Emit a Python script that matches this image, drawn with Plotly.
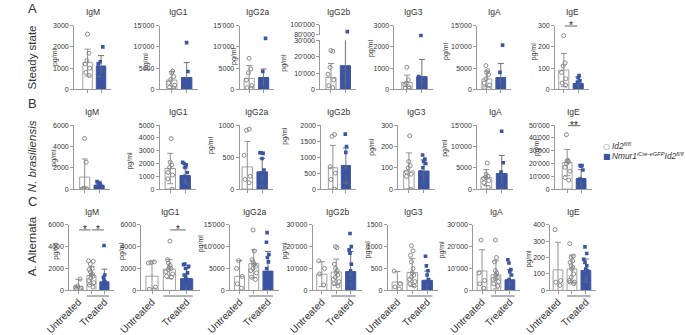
import plotly.graph_objects as go

# ---------------- data ----------------
isotypes = ["IgM", "IgG1", "IgG2a", "IgG2b", "IgG3", "IgA", "IgE"]
row_names = ["Steady state", "<i>N. brasiliensis</i>", "A. Alternata"]
panel_letters = ["A", "B", "C"]
legend_labels = ["<i>Id2</i><sup><i>fl/fl</i></sup>",
                 "<i>Nmur1</i><sup><i>iCre-eGFP</i></sup><i>Id2</i><sup><i>fl/fl</i></sup>"]
c_tick_labels = ["Untreated", "Treated"]
y_unit = "pg/ml"

# Row A - steady state (Id2 fl/fl vs Nmur1-Cre Id2 fl/fl)
A_mean_ctrl = [1260, 2200, 2600, 7350, 330, 2450, 91]
A_sd_ctrl = [630, 2000, 3000, 8500, 340, 1850, 78]
A_mean_ko = [1100, 2800, 2800, 14500, 600, 2800, 28]
A_sd_ko = [490, 3500, 2000, 17000, 810, 3300, 30]
A_pts_ctrl = [[2600, 1700, 1350, 1200, 1000, 800, 650],
              [4300, 3900, 3000, 2400, 1500, 1000, 500, 300],
              [7300, 4800, 3900, 2200, 900, 400, 300],
              [23800, 23300, 13500, 9300, 5800, 2300, 1000],
              [1040, 450, 300, 220, 120, 80, 50],
              [5600, 4400, 4000, 3500, 2500, 1500, 1000, 500, 200],
              [253, 125, 110, 80, 50, 30, 20]]
A_pts_ko = [[2000, 1300, 1200, 1000, 800, 650],
            [11000, 4200, 2000, 1500, 1000, 500, 300],
            [12000, 4200, 2200, 1100, 600, 400],
            [86000, 7000, 3000, 1500, 800],
            [2530, 600, 400, 200, 100],
            [10400, 4000, 2500, 1500, 800, 300],
            [65, 55, 40, 35, 20, 10, 5, 0]]
A_ytop = [3000, 15000, 15000, 30000, 3000, 15000, 300]
A_dtick = [1000, 5000, 5000, 10000, 1000, 5000, 100]
A_break_range = [80000, 100000]   # upper segment of the broken IgG2b axis
A_sig = [(6, 0, 1, "*")]

# Row B - N. brasiliensis
B_mean_ctrl = [1130, 1610, 347, 670, 85, 2700, 20800]
B_sd_ctrl = [1700, 1190, 400, 700, 85, 1900, 10300]
B_mean_ko = [360, 1060, 270, 740, 85, 3650, 8300]
B_sd_ko = [380, 600, 210, 550, 52, 4250, 6900]
B_pts_ctrl = [[4750, 2520, 100, 20, 0, 0, 0],
              [3950, 2100, 1900, 1700, 1300, 1100, 800, 0],
              [940, 920, 530, 200, 150, 100],
              [1710, 1650, 700, 500, 300, 0],
              [250, 130, 110, 100, 80, 70, 60, 0],
              [6100, 3500, 3000, 2800, 2500, 2000, 1500, 400],
              [42600, 22500, 22000, 21500, 20000, 17000, 14000, 9000, 7000]]
B_pts_ko = [[700, 600, 500, 420, 350, 300, 250, 200, 150, 100],
            [2100, 2000, 1900, 1700, 1300, 1000, 800, 700, 400, 300],
            [570, 570, 560, 480, 300, 250, 200, 150, 100, 80],
            [1720, 1330, 1150, 550, 500, 450, 400, 300, 100],
            [160, 141, 130, 120, 100, 80, 60, 40, 30],
            [13600, 6200, 4000, 2500, 1500, 800, 300],
            [18500, 18500, 18000, 15000, 8000, 5000, 2500, 1000, 0]]
B_ytop = [6000, 5000, 1000, 2000, 300, 15000, 50000]
B_dtick = [2000, 1000, 500, 500, 100, 5000, 10000]
B_sig = [(6, 0, 1, "**")]

# Row C - A. alternata (untreated Id2 fl/fl, treated Id2 fl/fl, treated Nmur1-Cre Id2 fl/fl)
C_mean_untr = [350, 1300, 3200, 7400, 190, 8850, 125]
C_sd_untr = [660, 1370, 3600, 5700, 240, 9700, 168]
C_mean_ctrl = [1360, 1940, 6100, 8400, 410, 7100, 131]
C_sd_ctrl = [810, 870, 3200, 5900, 320, 6400, 84]
C_mean_ko = [780, 1070, 4400, 8600, 230, 4850, 121]
C_sd_ko = [1160, 930, 4500, 9100, 210, 4700, 70]
C_pts_untr = [[1050, 400, 300, 200, 100, 50],
              [2600, 2550, 2500, 300, 100, 50],
              [6800, 5000, 3200, 1500, 500],
              [13500, 10000, 7500, 2500],
              [440, 150, 80, 30],
              [23000, 8000, 4500, 3000, 1000],
              [370, 60, 50, 30]]
C_pts_ctrl = [[2700, 2650, 2400, 2000, 1900, 1700, 1500, 1400, 1300, 1100, 900, 700, 500, 300],
              [4500, 2800, 2500, 2300, 2100, 2000, 1900, 1700, 1500, 1300, 1200],
              [13800, 9000, 7000, 6500, 6000, 5800, 5500, 5000, 4500, 4000, 3000, 2500],
              [20000, 19500, 12000, 10000, 9000, 8000, 7000, 6000, 5000, 4000, 3000, 2000],
              [1020, 900, 800, 650, 500, 400, 350, 300, 250, 200, 150, 100],
              [23000, 15000, 13000, 9000, 8000, 7000, 6000, 5500, 5000, 4000, 3000, 2000],
              [285, 210, 200, 180, 170, 150, 140, 130, 100, 80, 60, 50, 50, 40]]
C_pts_ko = [[4100, 1400, 1200, 1000, 800, 700, 500, 400, 300, 200, 100, 50],
            [2400, 2350, 2200, 2000, 1600, 1400, 1200, 1000, 800, 600, 500, 300, 200, 100, 50],
            [13200, 11000, 8200, 7500, 6500, 5000, 4000, 3000, 2000, 1500, 1000, 500, 200, 100, 0],
            [26000, 20000, 18500, 17000, 12000, 9000, 6000, 4000, 2000, 1500, 1000, 500],
            [780, 560, 450, 350, 250, 200, 150, 100, 50, 20],
            [14000, 12500, 9500, 8500, 7000, 5000, 4000, 3000, 2000, 1000],
            [265, 225, 190, 170, 150, 130, 120, 100, 80, 60, 40, 20]]
C_ytop = [6000, 6000, 15000, 30000, 1500, 30000, 400]
C_dtick = [2000, 2000, 5000, 10000, 500, 10000, 100]
C_sig = [(0, 0, 1, "*"), (0, 1, 2, "*"), (1, 1, 2, "*")]

# ---------------- style / geometry ----------------
W, H = 685, 335
FONT = "Liberation Sans, Arial, sans-serif"
TXT = "#333333"
AXC = "#9a9a9a"
GRAY = "#8a8a8a"
BLUE = "#3b55a3"

STY_CTRL = dict(fill="white", edge="#a0a0a0", err="#909090",
                marker=dict(symbol="circle-open", color=GRAY, size=4, line=dict(width=1, color=GRAY)))
STY_KO = dict(fill=BLUE, edge=BLUE, err="#707070",
              marker=dict(symbol="square", color=BLUE, size=3.6, line=dict(width=0)))

# (y-axis x px, first bar centre px, px per bar)
A_geo = [(50, 64, 14), (139, 151.5, 15.5), (222, 232, 15), (306, 317, 15), (383, 396, 15.5), (469, 479, 14.5), (550, 559, 15)]
B_geo = [(50, 61, 15), (139, 150, 15.5), (222, 230, 15.5), (307, 319, 13.5), (387, 398, 15.5), (469, 478.5, 16), (550, 562.5, 14.5)]
C_geo = [(45, 54.5, 13.5), (120, 131, 18), (212, 222, 14.75), (298, 307.5, 15), (376, 386, 15.5), (465, 474, 14.5), (545, 553, 14.5)]
A_pg = [(30, 56), (125, 60), (216, 55), (268, 62), (358, 46), (436, 49), (529, 50)]
B_pg = [(29, 162), (108, 165), (193, 149), (269, 139), (360, 150), (436, 151), (531, 151)]
C_pg = [(31, 260), (100, 260), (182, 252), (269, 260), (355, 259), (432, 259), (523, 268)]
ROW_Y = [(22.7, 90), (127.7, 195), (232.5, 301.7)]
TITLE_Y = [8.5, 114, 219]


def fx(p):
    return p / W


def fy(p):
    return 1 - p / H


fig = go.Figure()
lay = {}
annotations = []
shapes = []
counter = [0]
extra_y = [60]


def nm(k):
    return "" if k == 1 else str(k)


def add_panel(means, sds, pts, styles, ytop, dtick, geo, ybox, title, title_y, pg,
              xlabels=None, sig=(), brk=None):
    counter[0] += 1
    k = counter[0]
    xa, ya = "x" + nm(k), "y" + nm(k)
    axis_x, c0, s = geo
    n = len(means)
    r0 = -(c0 - axis_x) / s
    r1 = (n - 1) + 0.75
    end_px = axis_x + (r1 - r0) * s
    ytop_px, ybot_px = ybox
    low_top_px = brk[0] if brk else ytop_px

    xdict = dict(
        domain=[fx(axis_x), fx(end_px)], range=[r0, r1], anchor=ya,
        showline=True, linecolor=AXC, linewidth=1, ticks="outside", ticklen=3,
        tickcolor=AXC, tickangle=-45,
        tickfont=dict(size=10, color=TXT), ticklabelstandoff=-2,
        showgrid=False, zeroline=False, fixedrange=True)
    if xlabels:
        xdict["tickvals"] = [0, n - 1]
        xdict["ticktext"] = xlabels
        xdict["minor"] = dict(tickvals=list(range(1, n - 1)), ticks="outside", ticklen=3,
                              tickcolor=AXC, tickwidth=1, showgrid=False)
    else:
        xdict["tickvals"] = list(range(n))
        xdict["showticklabels"] = False
    lay["xaxis" + nm(k)] = xdict
    lay["yaxis" + nm(k)] = dict(
        domain=[fy(ybot_px), fy(low_top_px)], range=[0, ytop], anchor=xa,
        tickmode="linear", tick0=0, dtick=dtick, showline=True, linecolor=AXC,
        linewidth=1, ticks="outside", ticklen=3, tickcolor=AXC,
        tickfont=dict(size=7, color=TXT), exponentformat="none",
        showgrid=False, zeroline=False, fixedrange=True)

    up_ya = None
    if brk:
        extra_y[0] += 1
        up = extra_y[0]
        up_ya = "y" + str(up)
        lay["yaxis" + str(up)] = dict(
            domain=[fy(brk[1]), fy(brk[2])], range=brk[3], anchor=xa,
            tickmode="array", tickvals=brk[3], showline=True, linecolor=AXC,
            linewidth=1, ticks="outside", ticklen=3, tickcolor=AXC,
            tickfont=dict(size=7, color=TXT), exponentformat="none",
            showgrid=False, zeroline=False, fixedrange=True)

    for i in range(n):
        st = styles[i]
        fig.add_trace(go.Bar(
            x=[i], y=[means[i]], width=0.7, xaxis=xa, yaxis=ya,
            marker=dict(color=st["fill"], line=dict(color=st["edge"], width=1)),
            error_y=dict(type="data", array=[sds[i]], color=st["err"], thickness=1, width=3),
            hoverinfo="skip"))
    for i in range(n):
        st = styles[i]
        p_low = [v for v in pts[i] if v <= ytop]
        p_high = [v for v in pts[i] if v > ytop]
        for vals, yax in ((p_low, ya), (p_high, up_ya)):
            if not vals or yax is None:
                continue
            fig.add_trace(go.Box(
                x=[i] * len(vals), y=vals, xaxis=xa, yaxis=yax,
                boxpoints="all", jitter=0.9, pointpos=0, width=0.55,
                fillcolor="rgba(0,0,0,0)", line=dict(width=0, color="rgba(0,0,0,0)"),
                whiskerwidth=0, marker=st["marker"], hoverinfo="skip"))

    # title
    annotations.append(dict(text=title, x=fx((axis_x + end_px) / 2), y=fy(title_y),
                            xref="paper", yref="paper", showarrow=False,
                            font=dict(size=8.5, color=TXT), xanchor="center", yanchor="middle"))
    # unit label
    annotations.append(dict(text=y_unit, x=fx(pg[0]), y=fy(pg[1]), xref="paper", yref="paper",
                            showarrow=False, textangle=-90, font=dict(size=7, color=TXT),
                            xanchor="center", yanchor="middle"))
    # significance
    for (a, b, mark) in sig:
        ly = ytop_px + 0.5 if xlabels is None else ytop_px + 5.5
        shapes.append(dict(type="line", xref=xa, yref="paper", x0=a + 0.05, x1=b - 0.05,
                           y0=fy(ly), y1=fy(ly), line=dict(color="#666666", width=1)))
        annotations.append(dict(text=mark, x=(a + b) / 2, y=fy(ly - 0.5), xref=xa, yref="paper",
                                showarrow=False, font=dict(size=10, color="#222222"),
                                xanchor="center", yanchor="middle", borderpad=0))
    # treated group line
    if xlabels:
        shapes.append(dict(type="line", xref=xa, yref="paper", x0=0.65, x1=2.35,
                           y0=fy(ybot_px + 6), y1=fy(ybot_px + 6),
                           line=dict(color=AXC, width=1.5)))
    return k


for j, iso in enumerate(isotypes):
    brk = (38.3, 32.3, 21.7, A_break_range) if iso == "IgG2b" else None
    add_panel([A_mean_ctrl[j], A_mean_ko[j]], [A_sd_ctrl[j], A_sd_ko[j]],
              [A_pts_ctrl[j], A_pts_ko[j]], [STY_CTRL, STY_KO], A_ytop[j], A_dtick[j],
              A_geo[j], ROW_Y[0], iso, TITLE_Y[0], A_pg[j],
              sig=[(a, b, m) for (p, a, b, m) in A_sig if p == j], brk=brk)
for j, iso in enumerate(isotypes):
    add_panel([B_mean_ctrl[j], B_mean_ko[j]], [B_sd_ctrl[j], B_sd_ko[j]],
              [B_pts_ctrl[j], B_pts_ko[j]], [STY_CTRL, STY_KO], B_ytop[j], B_dtick[j],
              B_geo[j], ROW_Y[1], iso, TITLE_Y[1], B_pg[j],
              sig=[(a, b, m) for (p, a, b, m) in B_sig if p == j])
for j, iso in enumerate(isotypes):
    add_panel([C_mean_untr[j], C_mean_ctrl[j], C_mean_ko[j]],
              [C_sd_untr[j], C_sd_ctrl[j], C_sd_ko[j]],
              [C_pts_untr[j], C_pts_ctrl[j], C_pts_ko[j]], [STY_CTRL, STY_CTRL, STY_KO],
              C_ytop[j], C_dtick[j], C_geo[j], ROW_Y[2], iso, TITLE_Y[2], C_pg[j],
              xlabels=c_tick_labels, sig=[(a, b, m) for (p, a, b, m) in C_sig if p == j])

# row labels and panel letters
for r, (name, letter) in enumerate(zip(row_names, panel_letters)):
    cy = [56, 160, 255][r]
    annotations.append(dict(text=name, x=fx(6.5), y=fy(cy), xref="paper", yref="paper",
                            showarrow=False, textangle=-90, font=dict(size=11.5, color=TXT),
                            xanchor="center", yanchor="middle"))
    ly = [5, 105, 208][r]
    annotations.append(dict(text=letter, x=fx(0), y=fy(ly), xref="paper", yref="paper",
                            showarrow=False, font=dict(size=13, color=TXT),
                            xanchor="left", yanchor="middle"))

# legend (symbol + label)
for idx, (lab, sym, col) in enumerate(zip(legend_labels, ["○", "■"], [GRAY, BLUE])):
    yy = [150, 160.5][idx]
    annotations.append(dict(text=sym, x=fx(603.5), y=fy(yy), xref="paper", yref="paper",
                            showarrow=False, font=dict(size=8, color=col, family="DejaVu Sans"),
                            xanchor="center", yanchor="middle"))
    annotations.append(dict(text=lab, x=fx(607), y=fy(yy), xref="paper", yref="paper",
                            showarrow=False, font=dict(size=8.3, color=TXT),
                            xanchor="left", yanchor="middle"))

fig.update_layout(width=W, height=H, autosize=False, margin=dict(l=0, r=0, t=0, b=0),
                  paper_bgcolor="white", plot_bgcolor="rgba(0,0,0,0)",
                  barmode="overlay", boxmode="overlay", showlegend=False,
                  separators=".'", font=dict(family=FONT, size=7, color=TXT),
                  annotations=annotations, shapes=shapes, **lay)
fig.write_html("out.html", config={"displayModeBar": False, "staticPlot": True},
               post_script="document.body.style.margin='0px';")
